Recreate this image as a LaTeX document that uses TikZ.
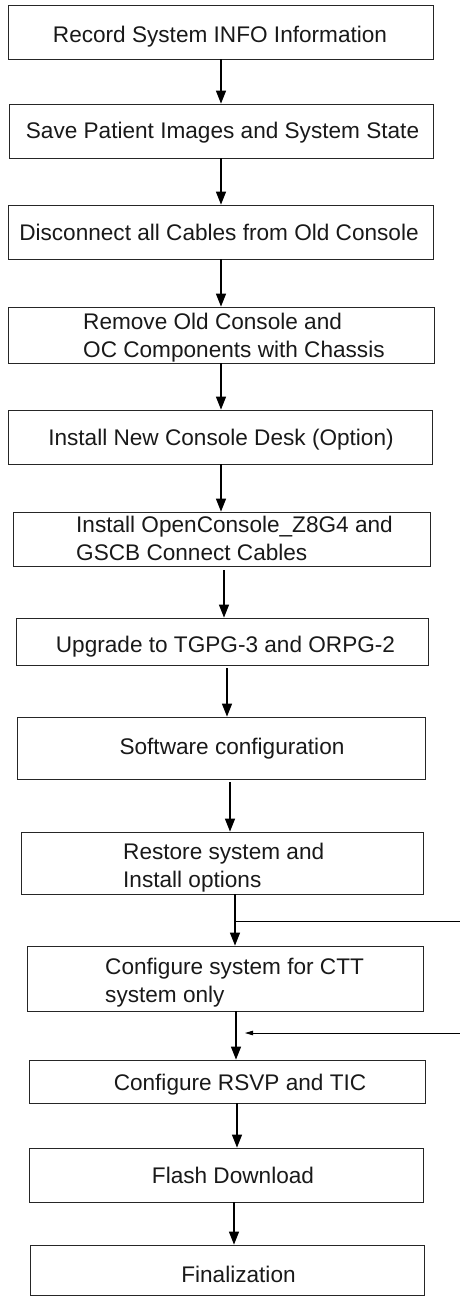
\documentclass[tikz,border=0pt]{standalone}
\usepackage{fontspec}
\setmainfont{Liberation Sans}
\usetikzlibrary{arrows.meta}
\tikzset{
    stepbox/.style = {rectangle, draw=black!85, line width=0.8pt, inner sep=0pt},
    steptext/.style = {inner sep=0pt, align=left, font=\fontsize{22.6}{27.5}\selectfont, text=black!90},
    flow/.style = {-{Triangle[length=13pt,width=10pt]}, line width=1.2pt},
    bypass/.style = {line width=0.8pt}
}

\begin{document}
\begin{tikzpicture}[x=1pt, y=-1pt]
    \useasboundingbox (0,0) rectangle (460,1296);

    % boxes
    \node [stepbox, minimum width=425pt, minimum height=54pt] (info) at (220.5,32) {};
    \node [stepbox, minimum width=424pt, minimum height=54pt] (save) at (221,131) {};
    \node [stepbox, minimum width=425pt, minimum height=54pt] (disconnect) at (220.5,232) {};
    \node [stepbox, minimum width=426pt, minimum height=56pt] (remove) at (221,335) {};
    \node [stepbox, minimum width=424pt, minimum height=54pt] (desk) at (220,437) {};
    \node [stepbox, minimum width=417pt, minimum height=54pt] (install) at (221.5,539) {};
    \node [stepbox, minimum width=412pt, minimum height=47pt] (upgrade) at (222,641.5) {};
    \node [stepbox, minimum width=408pt, minimum height=62pt] (software) at (221,748) {};
    \node [stepbox, minimum width=402pt, minimum height=62pt] (restore) at (222,863) {};
    \node [stepbox, minimum width=396pt, minimum height=65pt] (ctt) at (225,978.5) {};
    \node [stepbox, minimum width=396pt, minimum height=43pt] (rsvp) at (227,1081.5) {};
    \node [stepbox, minimum width=394pt, minimum height=54pt] (flash) at (226,1175) {};
    \node [stepbox, minimum width=394pt, minimum height=50pt] (final) at (227,1270) {};

    % texts (base of a two-line text is its last line)
    \node [steptext, anchor=base] (info text) at (220,42) {Record System INFO Information};
    \node [steptext, anchor=base] (save text) at (222.5,138) {Save Patient Images and System State};
    \node [steptext, anchor=base] (disconnect text) at (219,240) {Disconnect all Cables from Old Console};
    \node [steptext, anchor=base west] (remove text) at (83,357) {Remove Old Console and\\OC Components with Chassis};
    \node [steptext, anchor=base] (desk text) at (221,445) {Install New Console Desk (Option)};
    \node [steptext, anchor=base west] (install text) at (76,560) {Install OpenConsole\_Z8G4 and\\GSCB Connect Cables};
    \node [steptext, anchor=base] (upgrade text) at (225.5,652) {Upgrade to TGPG-3 and ORPG-2};
    \node [steptext, anchor=base] (software text) at (232,754) {Software configuration};
    \node [steptext, anchor=base west] (restore text) at (123,887) {Restore system and\\Install options};
    \node [steptext, anchor=base west] (ctt text) at (105,1002) {Configure system for CTT\\system only};
    \node [steptext, anchor=base] (rsvp text) at (240,1090) {Configure RSVP and TIC};
    \node [steptext, anchor=base] (flash text) at (233,1183) {Flash Download};
    \node [steptext, anchor=base] (final text) at (238.5,1282) {Finalization};

    % side branch
    \coordinate (split) at (235,921);
    \coordinate (out) at (460,921);
    \coordinate (back) at (460,1033);
    \coordinate (join) at (245,1033);

    % connectors
    \draw [flow] ([xshift=0.5pt]info.south) -- (save.north);
    \draw [flow] (save.south) -- ([xshift=0.5pt]disconnect.north);
    \draw [flow] ([xshift=0.5pt]disconnect.south) -- (remove.north);
    \draw [flow] (remove.south) -- ([xshift=1pt]desk.north);
    \draw [flow] ([xshift=1pt]desk.south) -- ([xshift=-0.5pt]install.north);
    \draw [flow] ([xshift=2.5pt,yshift=-4pt]install.south) -- ([xshift=2pt]upgrade.north);
    \draw [flow] ([xshift=5pt,yshift=-3pt]upgrade.south) -- ([xshift=6pt]software.north);
    \draw [flow] ([xshift=9pt,yshift=-3pt]software.south) -- ([xshift=8pt]restore.north);
    \draw [flow] ([xshift=13pt]restore.south) -- ([xshift=10pt]ctt.north);
    \draw [bypass] (split) -- (out);
    \draw [flow] ([xshift=11pt]ctt.south) -- ([xshift=9pt]rsvp.north);
    \draw [bypass, -{Triangle[length=8pt,width=4.5pt]}] (back) -- (join);
    \draw [flow] ([xshift=10pt]rsvp.south) -- ([xshift=11pt]flash.north);
    \draw [flow] ([xshift=8pt]flash.south) -- ([xshift=7pt]final.north);
\end{tikzpicture}
\end{document}
